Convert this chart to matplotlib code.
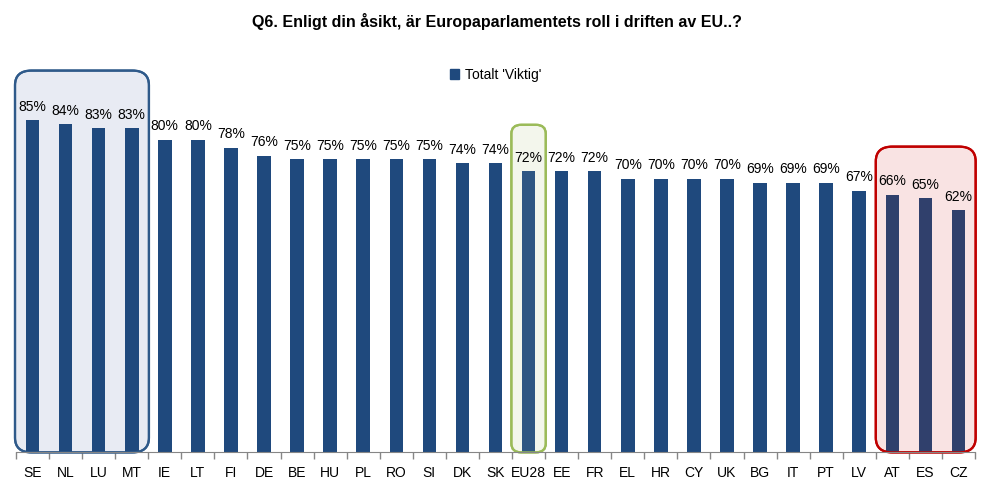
import matplotlib
matplotlib.use("Agg")
import matplotlib.pyplot as plt
from matplotlib.patches import FancyBboxPatch, Patch

plt.rcParams['font.family'] = ['Liberation Sans', 'DejaVu Sans']

countries = ["SE", "NL", "LU", "MT", "IE", "LT", "FI", "DE", "BE", "HU", "PL", "RO", "SI", "DK", "SK",
             "EU28", "EE", "FR", "EL", "HR", "CY", "UK", "BG", "IT", "PT", "LV", "AT", "ES", "CZ"]
values = [85, 84, 83, 83, 80, 80, 78, 76, 75, 75, 75, 75, 75, 74, 74,
          72, 72, 72, 70, 70, 70, 70, 69, 69, 69, 67, 66, 65, 62]
series_name = "Totalt 'Viktig'"
title = "Q6. Enligt din åsikt, är Europaparlamentets roll i driften av EU..?"

base_color = "#1F497D"
colors = []
for c in countries:
    if c == "EU28":
        colors.append("#2E5683")
    elif c in ("AT", "ES", "CZ"):
        colors.append("#30406C")
    else:
        colors.append(base_color)

fig = plt.figure(figsize=(9.93, 4.94), dpi=100)
ax = fig.add_axes([16/993, 42/494, 959/993, 390/494])

x = list(range(len(countries)))
ax.bar(x, values, width=0.41, color=colors, zorder=3)

for xi, v in zip(x, values):
    ax.text(xi, v + 1.7, f"{v}%", ha="center", va="bottom", fontsize=10, color="#000000", zorder=5)

ax.set_xlim(-0.5, len(countries) - 0.5)
ax.set_ylim(0, 100)

# highlight boxes
def box(x0, x1, ytop, edge, face, rs=0.5):
    for fc, z in ((face, 1), ("none", 4)):
        p = FancyBboxPatch((x0, -0.1), x1 - x0, ytop + 0.1,
                           boxstyle=f"round,pad=0,rounding_size={rs}",
                           mutation_aspect=7.5,
                           facecolor=fc, edgecolor=edge, linewidth=1.6, zorder=z,
                           clip_on=False)
        ax.add_patch(p)

i_eu = countries.index("EU28")
box(-0.53, 3.52, 97.8, "#2F5A8A", "#E8EBF3")
box(i_eu - 0.52, i_eu + 0.52, 83.9, "#9BBB59", "#F3F6EC", rs=0.3)
box(25.5, 28.52, 78.3, "#C00000", "#F9E3E3")

for s in ["top", "right", "left"]:
    ax.spines[s].set_visible(False)
ax.spines["bottom"].set_color("#868686")
ax.spines["bottom"].set_zorder(6)
ax.set_yticks([])
ax.set_xticks(x)
ax.set_xticklabels(countries, fontsize=10)
ax.tick_params(axis="x", length=0, pad=10)
ax.set_xticks([i - 0.5 for i in range(len(countries) + 1)], minor=True)
ax.tick_params(axis="x", which="minor", length=5, color="#868686", width=1)

fig.text(0.5, 1 - 22/494, title, ha="center", va="center", fontsize=11.5, fontweight="bold")

ax.legend(handles=[Patch(facecolor=base_color, edgecolor=base_color)], labels=[series_name],
          loc="center", bbox_to_anchor=(0.5, (452 - 75) / 390), frameon=False,
          fontsize=10, handlelength=0.7, handleheight=0.7, handletextpad=0.4)

fig.savefig("out.png", dpi=100)
